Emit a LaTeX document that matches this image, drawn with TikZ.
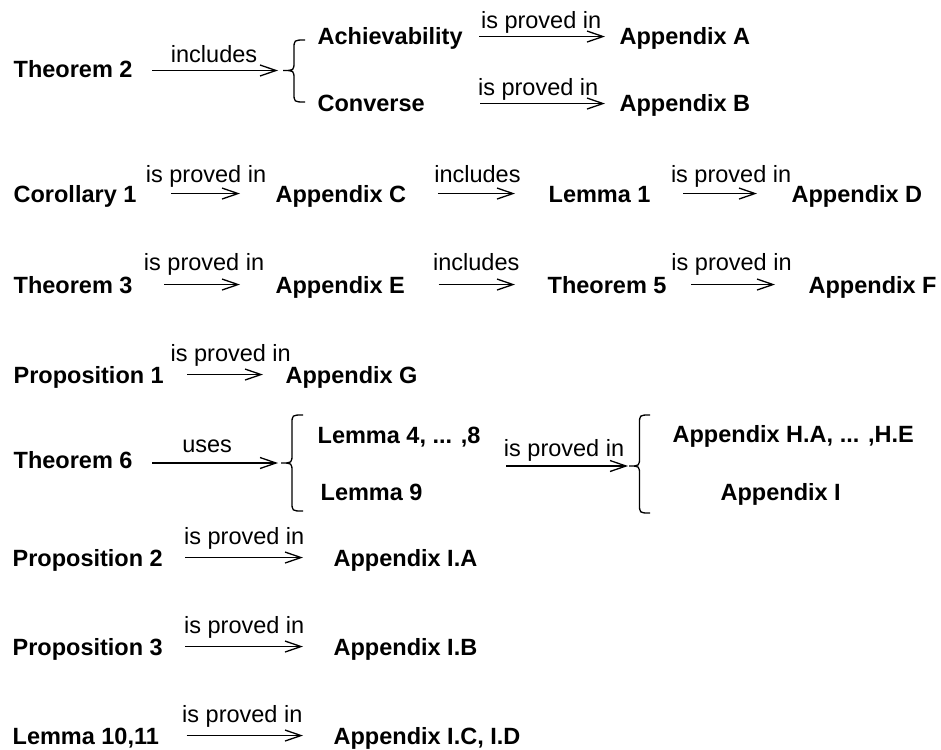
\documentclass[tikz,border=0pt]{standalone}
\usepackage{fontspec}
\setmainfont{Liberation Sans}
\usetikzlibrary{arrows.meta}

\begin{document}
\begin{tikzpicture}[x=0.5pt, y=-0.5pt, line width=0.65pt,
    >={Straight Barb[length=8pt, width=5.5pt]},
    stmt/.style={anchor=base west, inner sep=0pt, text height=8.46pt, text depth=0pt,
        font=\fontsize{11.75pt}{14pt}\selectfont\bfseries},
    verb/.style={midway, above=#1, inner sep=0pt, text depth=0pt,
        font=\fontsize{11.75pt}{14pt}\selectfont},
    verb/.default=5pt]

    \useasboundingbox (0,0) rectangle (941,749);

    % braces: name/tip x/tip y/end x/top/bottom
    \foreach \n/\tx/\ty/\ex/\yt/\yb in {A/283/70.5/305/40/102, B/281/463/303/415/511, C/629/466/650/415/513} {
        \pgfmathsetmacro\mx{(\tx+\ex)/2}
        \coordinate (tip\n) at (\tx,\ty);
        \draw (\ex,\yt) .. controls (\mx,\yt) .. (\mx,\yt+9) -- (\mx,\ty-9)
            .. controls (\mx,\ty) .. (tip\n) .. controls (\mx,\ty) .. (\mx,\ty+9)
            -- (\mx,\yb-9) .. controls (\mx,\yb) .. (\ex,\yb);
    }

    % Theorem 2
    \node[stmt] (thm2) at (13,78) {Theorem 2};
    \node[stmt] (ach) at (317,45) {Achievability};
    \node[stmt] (conv) at (317,112) {Converse};
    \node[stmt] (appA) at (619,45) {Appendix A};
    \node[stmt] (appB) at (619,112) {Appendix B};
    \draw[->, shorten <=9.5pt, shorten >=2.5pt] (thm2.east |- tipA) -- node[verb=3.8pt, xshift=3pt] {includes} (tipA);
    \draw[->, shorten <=8pt, shorten >=7pt] (ach) -- node[verb=3.5pt] {is proved in} (appA);
    \draw[->, shorten <=27.5pt, shorten >=7pt] (conv) -- node[verb=3.5pt, xshift=8pt] {is proved in} (appB);

    % Corollary 1
    \node[stmt] (cor1) at (13,202) {Corollary 1};
    \node[stmt] (appC) at (275,202) {Appendix C};
    \node[stmt] (lem1) at (548,202) {Lemma 1};
    \node[stmt] (appD) at (791,202) {Appendix D};
    \draw[->, shorten <=17pt, shorten >=17.5pt] (cor1) -- node[verb] {is proved in} (appC);
    \draw[->, shorten <=15.5pt, shorten >=16.5pt] (appC) -- node[verb] {includes} (lem1);
    \draw[->, shorten <=16pt, shorten >=17pt] (lem1) -- node[verb, xshift=5pt] {is proved in} (appD);

    % Theorem 3
    \node[stmt] (thm3) at (13,293) {Theorem 3};
    \node[stmt] (appE) at (275,293) {Appendix E};
    \node[stmt] (thm5) at (547,293) {Theorem 5};
    \node[stmt] (appF) at (808,293) {Appendix F};
    \draw[->, shorten <=15.5pt, shorten >=17.5pt] (thm3) -- node[verb=6.5pt] {is proved in} (appE);
    \draw[->, shorten <=16.5pt, shorten >=16pt] (appE) -- node[verb=6.5pt] {includes} (thm5);
    \draw[->, shorten <=12pt, shorten >=16.5pt] (thm5) -- node[verb=6.5pt, xshift=-3pt] {is proved in} (appF);

    % Proposition 1
    \node[stmt] (prop1) at (13,383) {Proposition 1};
    \node[stmt] (appG) at (285,383) {Appendix G};
    \draw[->, shorten <=11.5pt, shorten >=11pt] (prop1) -- node[verb=6pt, xshift=3pt] {is proved in} (appG);

    % Theorem 6
    \node[stmt] (thm6) at (13,468) {Theorem 6};
    \node[stmt] (lemA) at (317,443) {Lemma 4, ... ,8};
    \node[stmt] (lemB) at (320,500) {Lemma 9};
    \node[stmt] (appH) at (672,442) {Appendix H.A, ... ,H.E};
    \node[stmt] (appI) at (720,500) {Appendix I};
    \draw[->, shorten <=9.5pt, shorten >=1.5pt] (thm6.east |- tipB) -- node[verb] {uses} (tipB);
    \draw[->, shorten <=12.5pt, shorten >=0.5pt] (lemA.east |- tipC) -- node[verb=4.5pt, xshift=4.5pt] {is proved in} (tipC);

    % Propositions 2, 3 and Lemma 10,11
    \node[stmt] (prop2) at (12,566) {Proposition 2};
    \node[stmt] (appIA) at (333,566) {Appendix I.A};
    \node[stmt] (prop3) at (12,655) {Proposition 3};
    \node[stmt] (appIB) at (333,655) {Appendix I.B};
    \node[stmt] (lemx) at (12,744) {Lemma 10,11};
    \node[stmt] (appIC) at (333,744) {Appendix I.C, I.D};
    \foreach \a/\b/\s in {prop2/appIA/11pt, prop3/appIB/11pt, lemx/appIC/13.5pt}
        \draw[->, shorten <=\s, shorten >=15pt] (\a) -- node[verb=6pt, xshift=-2pt] {is proved in} (\b);

\end{tikzpicture}
\end{document}
